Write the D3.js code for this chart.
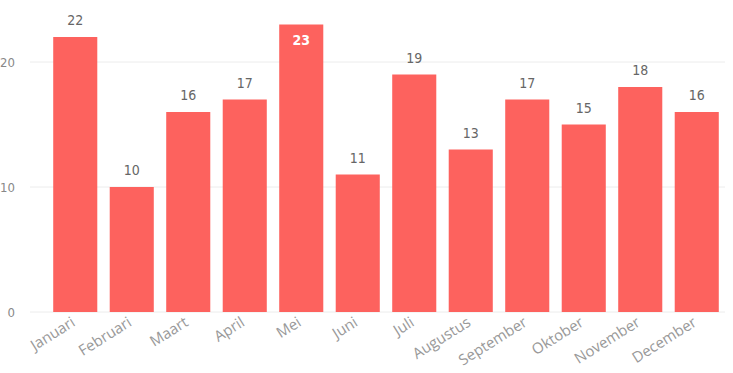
<!DOCTYPE html>
<html><head><meta charset="utf-8">
<script src="https://cdn.jsdelivr.net/npm/d3@7"></script>
<style>
body{margin:0;background:#fff;}
svg{display:block;font-family:"DejaVu Sans Condensed","Open Sans",sans-serif;}
</style></head>
<body>
<script>
const months = ["Januari","Februari","Maart","April","Mei","Juni","Juli","Augustus","September","Oktober","November","December"];
const values = [22,10,16,17,23,11,19,13,17,15,18,16];
const yTicks = [0,10,20];

const W = 733, H = 373;
const svg = d3.select("body").append("svg").attr("width", W).attr("height", H);

const x = d3.scaleBand().domain(months).range([47, 725]).paddingInner(0.22).paddingOuter(0.11);
const y = d3.scaleLinear().domain([0, 20]).range([312, 62]);

// gridlines
svg.append("g").selectAll("line").data(yTicks).join("line")
  .attr("x1", 30).attr("x2", 725)
  .attr("y1", d => y(d)).attr("y2", d => y(d))
  .attr("stroke", "#ececec").attr("stroke-width", 1);

// y labels
svg.append("g").selectAll("text").data(yTicks).join("text")
  .attr("x", 15).attr("y", d => y(d)).attr("dy", "0.35em")
  .attr("text-anchor", "end").attr("fill", "#888").attr("font-size", 13)
  .text(d => d);

// bars
svg.append("g").selectAll("rect").data(values).join("rect")
  .attr("x", (d, i) => x(months[i]))
  .attr("width", x.bandwidth())
  .attr("y", d => y(d))
  .attr("height", d => y(0) - y(d))
  .attr("fill", "#FD625E");

// value labels
svg.append("g").selectAll("text").data(values).join("text")
  .attr("x", (d, i) => x(months[i]) + x.bandwidth() / 2)
  .attr("y", d => y(d) - 20 < 5 ? y(d) + 20 : y(d) - 12)
  .attr("text-anchor", "middle")
  .attr("font-size", 14)
  .attr("font-weight", d => y(d) - 20 < 5 ? "bold" : "normal")
  .attr("fill", d => y(d) - 20 < 5 ? "#fff" : "#666")
  .text(d => d);

// x labels
svg.append("g").selectAll("text").data(months).join("text")
  .attr("transform", d => `translate(${x(d) + x.bandwidth() / 2 + 1},${325}) rotate(-32)`)
  .attr("text-anchor", "end")
  .attr("font-size", 15)
  .attr("fill", "#999")
  .attr("font-family", "'Open Sans',sans-serif")
  .text(d => d);
</script>
</body></html>
